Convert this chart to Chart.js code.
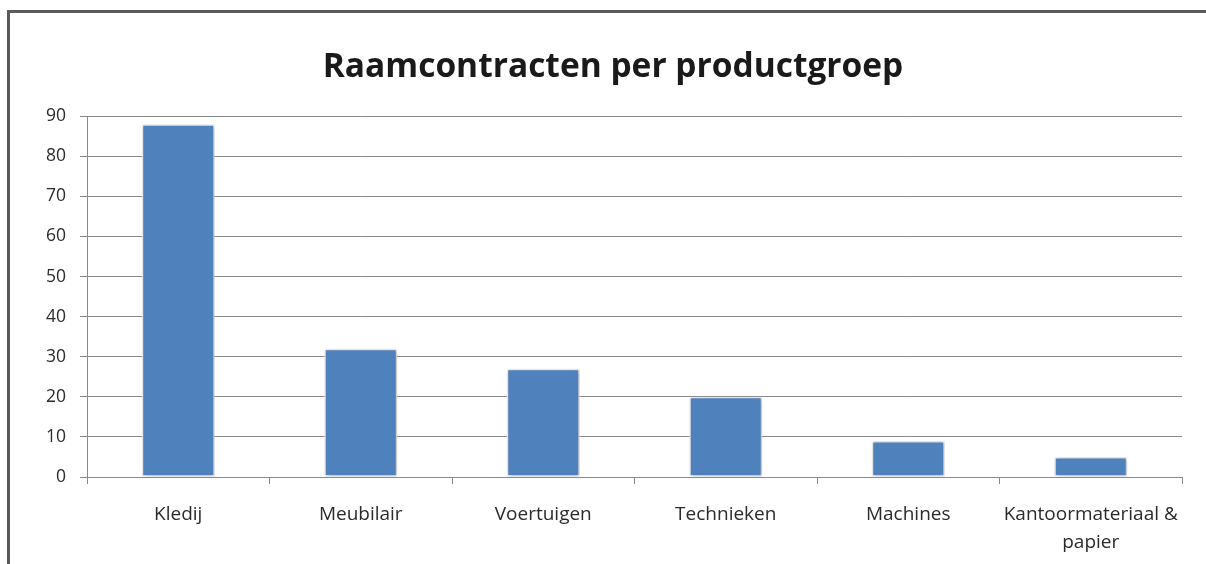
<!DOCTYPE html>
<html>
<head>
<meta charset="utf-8">
<script src="https://cdn.jsdelivr.net/npm/chart.js@4/dist/chart.umd.min.js"></script>
<style>
  html, body { margin: 0; padding: 0; background: #fff; }
  #wrap { position: relative; width: 1206px; height: 564px; overflow: hidden; }
  #frame { position: absolute; left: 7px; top: 10px; width: 1300px; height: 700px;
           border-left: 3px solid #5b5b5b; border-top: 3px solid #5b5b5b; box-sizing: border-box; }
  canvas { position: absolute; left: 0; top: 0; }
</style>
</head>
<body>
<div id="wrap">
  <div id="frame"></div>
  <canvas id="c" width="1206" height="564"></canvas>
</div>
<script>
const categories = ['Kledij', 'Meubilair', 'Voertuigen', 'Technieken', 'Machines', ['Kantoormateriaal &', 'papier']];
const values = [88, 32, 27, 20, 9, 5];
const titleText = 'Raamcontracten per productgroep';
const yMin = 0, yMax = 90, yStep = 10;

const shadowPlugin = {
  id: 'barShadow',
  beforeDatasetsDraw(chart) {
    const ctx = chart.ctx;
    ctx.save();
    ctx.shadowColor = 'rgba(0,0,0,0.28)';
    ctx.shadowBlur = 4;
    ctx.shadowOffsetX = 1;
    ctx.shadowOffsetY = 1;
  },
  afterDatasetsDraw(chart) { chart.ctx.restore(); }
};

const gridColor = '#8a8a8a';
const textColor = '#2b2b2b';

new Chart(document.getElementById('c'), {
  type: 'bar',
  data: {
    labels: categories,
    datasets: [{
      data: values,
      backgroundColor: '#4f81bd',
      borderColor: '#f4f4f4',
      borderWidth: 1.5,
      borderSkipped: false,
      barPercentage: 0.4,
      categoryPercentage: 1.0
    }]
  },
  options: {
    responsive: false,
    animation: false,
    devicePixelRatio: 1,
    layout: { padding: { left: 44, right: 24, top: 0, bottom: 0 } },
    plugins: {
      legend: { display: false },
      tooltip: { enabled: false },
      title: {
        display: true,
        text: titleText,
        color: '#1a1a1a',
        font: { family: 'Open Sans', size: 33.5, weight: 'bold', lineHeight: 1.2 },
        padding: { top: 47, bottom: 29 }
      }
    },
    scales: {
      x: {
        grid: { display: true, drawOnChartArea: false, drawTicks: true, tickLength: 7, color: gridColor, lineWidth: 1 },
        border: { display: true, color: gridColor, width: 1 },
        ticks: { color: textColor, font: { family: 'Open Sans', size: 19, lineHeight: 1.5 }, padding: 16, maxRotation: 0, autoSkip: false },
        afterFit(s) { s.height = 87; }
      },
      y: {
        min: yMin, max: yMax,
        grid: { color: gridColor, lineWidth: 1, drawTicks: true, tickLength: 7 },
        border: { display: true, color: gridColor, width: 1 },
        ticks: { stepSize: yStep, color: textColor, font: { family: 'Open Sans', size: 17.5 }, padding: 14 },
        afterFit(s) { s.width = 43; }
      }
    }
  },
  plugins: [shadowPlugin]
});
</script>
</body>
</html>
